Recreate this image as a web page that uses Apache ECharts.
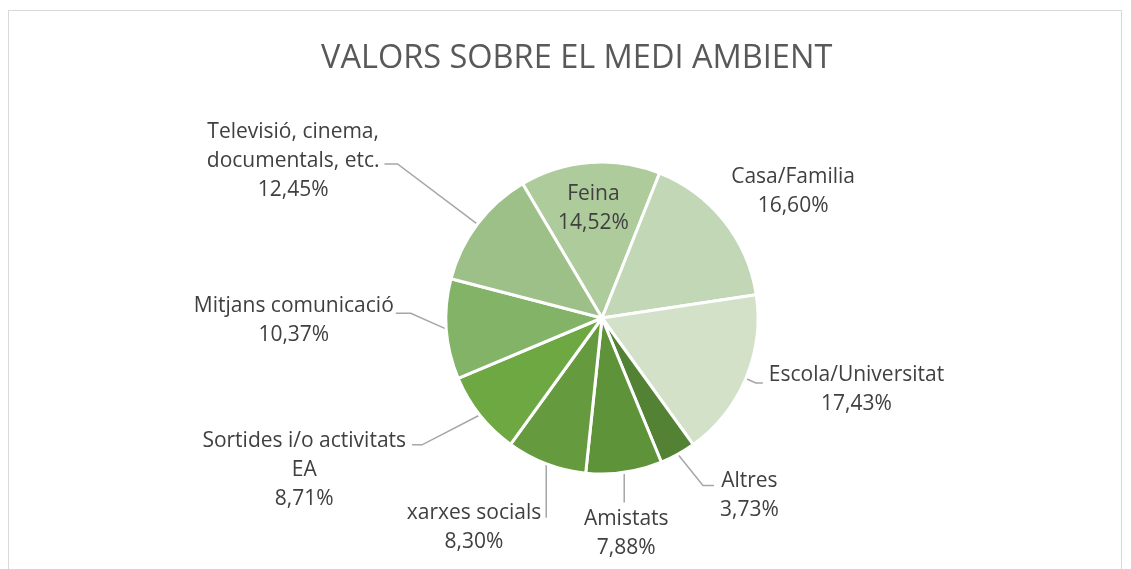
<!DOCTYPE html>
<html>
<head>
<meta charset="utf-8">
<script src="https://cdn.jsdelivr.net/npm/echarts@6/dist/echarts.min.js"></script>
<style>
  html, body { margin: 0; padding: 0; background: #fff; overflow: hidden; }
  #frame { position: absolute; left: 8px; top: 10px; width: 1114px; height: 600px; border: 1px solid #d9d9d9; box-sizing: border-box; }
  #chart { position: absolute; left: 0; top: 0; width: 1131px; height: 569px; }
</style>
</head>
<body>
<div id="frame"></div>
<div id="chart"></div>
<script>
    // dades del gràfic
    var categories = ['Feina', 'Casa/Familia', 'Escola/Universitat', 'Altres', 'Amistats',
        'xarxes socials', 'Sortides i/o activitats\nEA', 'Mitjans comunicació', 'Televisió, cinema,\ndocumentals, etc.'];
    var values = [14.52, 16.60, 17.43, 3.73, 7.88, 8.30, 8.71, 10.37, 12.45];
    var colors = ['#aecb9c', '#c1d7b5', '#d2e1c8', '#548235', '#5e933a',
        '#659b3e', '#6ea843', '#82b366', '#9dc089'];

    // línies guia de les etiquetes (estil Excel)
    var pieCenter = [602, 318];
    var lh = 29;
    var leader = [
        { mode: 'inside', k: 1.36 },
        { len: 0, len2: 0, gap: 7, attach: 1.52, hide: true },
        { ang: 336, len: 11, len2: 7, gap: 6, attach: 0.28 },
        { ang: 308.9, len: 40, len2: 11, gap: 6, attach: 0.17 },
        { mode: 'below', ang: 270, len: 30, len2: 0, gap: 2, dx: 2 },
        { ang: 270, len: 54, len2: 0, gap: 5, attach: 0.17 },
        { ang: 207.3, len: 65, len2: 10, gap: 6, attach: 0.14 },
        { ang: 156, len: 39, len2: 15, gap: 2, attach: 0.24 },
        { len: 100, len2: 13, gap: 5, attach: 1.1 }
    ];

    var seriesData = [];
    for (var i = 0; i < categories.length; i++) {
        var item = {
            name: categories[i],
            value: values[i],
            itemStyle: { color: colors[i] }
        };
        if (leader[i].mode === 'inside') {
            item.label = { position: 'inside' };
        }
        seriesData.push(item);
    }

    var chart = echarts.init(document.getElementById('chart'));
    var option = {
        animation: false,
        title: {
            text: 'VALORS SOBRE EL MEDI AMBIENT',
            left: 316,
            top: 37,
            textStyle: {
                fontFamily: 'Open Sans',
                fontWeight: 'normal',
                fontSize: 32.5,
                color: '#595959'
            }
        },
        series: [
            {
                type: 'pie',
                center: pieCenter,
                radius: 156,
                startAngle: 120.6,
                clockwise: true,
                avoidLabelOverlap: false,
                data: seriesData,
                itemStyle: {
                    borderColor: '#ffffff',
                    borderWidth: 3
                },
                label: {
                    show: true,
                    formatter: function (p) {
                        return p.name + '\n' + p.value.toFixed(2).replace('.', ',') + '%';
                    },
                    fontFamily: 'Open Sans',
                    fontSize: 21,
                    lineHeight: lh,
                    color: '#404040'
                },
                labelLine: {
                    length: 10,
                    length2: 10,
                    lineStyle: { color: '#a6a6a6', width: 1.5 }
                },
                labelLayout: function (params) {
                    var cfg = leader[params.dataIndex];
                    var r = params.labelRect;
                    if (cfg.mode === 'inside') {
                        var cx = r.x + r.width / 2, cy = r.y + r.height / 2;
                        return {
                            x: pieCenter[0] + (cx - pieCenter[0]) * cfg.k,
                            y: pieCenter[1] + (cy - pieCenter[1]) * cfg.k,
                            align: 'center',
                            verticalAlign: 'middle'
                        };
                    }
                    var pts = params.labelLinePoints;
                    var p0 = pts[0];
                    var dx, dy;
                    if (cfg.ang == null) {
                        var vx = pts[1][0] - p0[0], vy = pts[1][1] - p0[1];
                        var n = Math.sqrt(vx * vx + vy * vy);
                        dx = vx / n; dy = vy / n;
                    } else {
                        dx = Math.cos(cfg.ang * Math.PI / 180);
                        dy = -Math.sin(cfg.ang * Math.PI / 180);
                    }
                    var side = pts[2][0] >= pts[1][0] ? 1 : -1;
                    var p1 = [p0[0] + dx * cfg.len, p0[1] + dy * cfg.len];
                    var p2 = [p1[0] + side * cfg.len2, p1[1]];
                    var lx, ly;
                    if (cfg.mode === 'below') {
                        lx = p2[0] + (cfg.dx || 0);
                        ly = p2[1] + cfg.gap;
                    } else {
                        lx = p2[0] + side * (cfg.gap + r.width / 2);
                        ly = p2[1] - (cfg.attach + 0.5) * lh;
                    }
                    return {
                        x: lx,
                        y: ly,
                        align: 'center',
                        verticalAlign: 'top',
                        labelLinePoints: cfg.hide ? [p0, p0, p0] : [p0, p1, p2]
                    };
                }
            }
        ]
    };
    chart.setOption(option);
</script>
</body>
</html>
